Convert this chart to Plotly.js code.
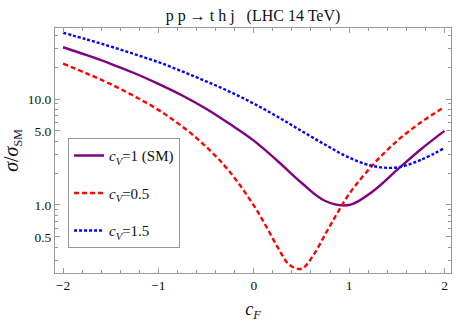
<!DOCTYPE html>
<html><head><meta charset="utf-8">
<script src="https://cdn.plot.ly/plotly-3.0.1.min.js"></script>
<style>html,body{margin:0;padding:0;background:#fff}#chart{width:458px;height:322px}</style>
</head><body><div id="chart"></div>
<script>
// c_F values
const cF = [-2,-1.75,-1.5,-1.25,-1,-0.75,-0.5,-0.25,0,0.25,0.5,0.75,1,1.25,1.5,1.75,2];
const cFRed = [-2,-1.75,-1.5,-1.25,-1,-0.75,-0.5,-0.25,0,0.125,0.25,0.375,0.5,0.625,0.75,0.875,1,1.25,1.5,1.75,2];
// sigma / sigma_SM
const sigmaCV1 = [30.8,25.9,21.5,17.5,13.9,10.8,8.1,5.8,4.05,2.6,1.62,1.09,1.0,1.35,2.13,3.34,5.0];
const sigmaCV05 = [21.6,17.4,13.8,10.6,7.9,5.5,3.55,2.05,0.99,0.64,0.40,0.272,0.25,0.336,0.53,0.835,1.27,2.4,4.0,6.0,8.4];
const sigmaCV15 = [42.2,36.5,31.3,26.5,22.3,18.2,14.7,11.7,9.05,6.8,5.0,3.7,2.8,2.33,2.26,2.66,3.45];
const names = ['<i>c<sub>V</sub></i>=1 (SM)','<i>c<sub>V</sub></i>=0.5','<i>c<sub>V</sub></i>=1.5'];
const yTickVals = [0.5,1,5,10];
const yTickText = ['0.5','1.0','5.0','10.0'];
const yMinorVals = [0.3,0.4,0.6,0.7,0.8,0.9,2,3,4,6,7,8,9,20,30,40];
const xTickVals = [-2,-1,0,1,2];

const serif = 'Liberation Serif';
const ink = '#111';
const traces = [
  {x:cF, y:sigmaCV1, name:names[0], legendgroup:'a', mode:'lines', line:{color:'#800080', width:2.4, shape:'spline'}},
  {x:cFRed, y:sigmaCV05, name:names[1], legendgroup:'b', mode:'lines', line:{color:'#ff0000', width:2.4, dash:'5px,3px', shape:'spline'}},
  {x:cF, y:sigmaCV15, name:names[2], legendgroup:'c', mode:'lines', line:{color:'#0000ff', width:2.4, dash:'3px,2px', shape:'spline'}}
];
const frame = '#999';
const layout = {
  width:458, height:322,
  margin:{l:55, r:7, t:28, b:49},
  paper_bgcolor:'#fff', plot_bgcolor:'#fff',
  font:{family:serif, size:13.5, color:ink},
  title:{text:'p p → t h j   (LHC 14 TeV)', font:{family:serif, size:16, color:ink}, x:0.5, xref:'paper', y:0.953, yref:'container', yanchor:'middle'},
  xaxis:{range:[-2.084,2.068], tickmode:'array', tickvals:xTickVals, ticks:'inside', ticklen:5, tickcolor:frame,
    showline:true, linecolor:frame, linewidth:1, mirror:'ticks', showgrid:false, zeroline:false,
    minor:{tick0:-2, dtick:0.2, ticks:'inside', ticklen:3, tickcolor:frame, showgrid:false},
    tickfont:{family:serif, size:13.5, color:ink},
    title:{text:'<i>c<sub>F</sub></i>', font:{family:serif, size:18, color:ink}, standoff:18}},
  yaxis:{type:'log', range:[Math.log10(0.228), Math.log10(46.8)], tickmode:'array', tickvals:yTickVals, ticktext:yTickText,
    ticks:'inside', ticklen:5, tickcolor:frame, showline:true, linecolor:frame, linewidth:1, mirror:'ticks', showgrid:false, zeroline:false,
    minor:{tickmode:'array', tickvals:yMinorVals, ticks:'inside', ticklen:3, tickcolor:frame, showgrid:false},
    tickfont:{family:serif, size:13.5, color:ink},
    title:{text:'<i>σ</i>/<i>σ</i><sub><span style="font-size:12px">SM</span></sub>', font:{family:serif, size:20, color:ink}, standoff:5}},
  showlegend:true,
  legend:{x:0.033, y:0.55, xanchor:'left', yanchor:'top', bgcolor:'#fff', bordercolor:frame, borderwidth:1,
    tracegroupgap:15, font:{family:serif, size:15, color:ink}}
};
Plotly.newPlot('chart', traces, layout, {displayModeBar:false, staticPlot:true});
</script></body></html>
